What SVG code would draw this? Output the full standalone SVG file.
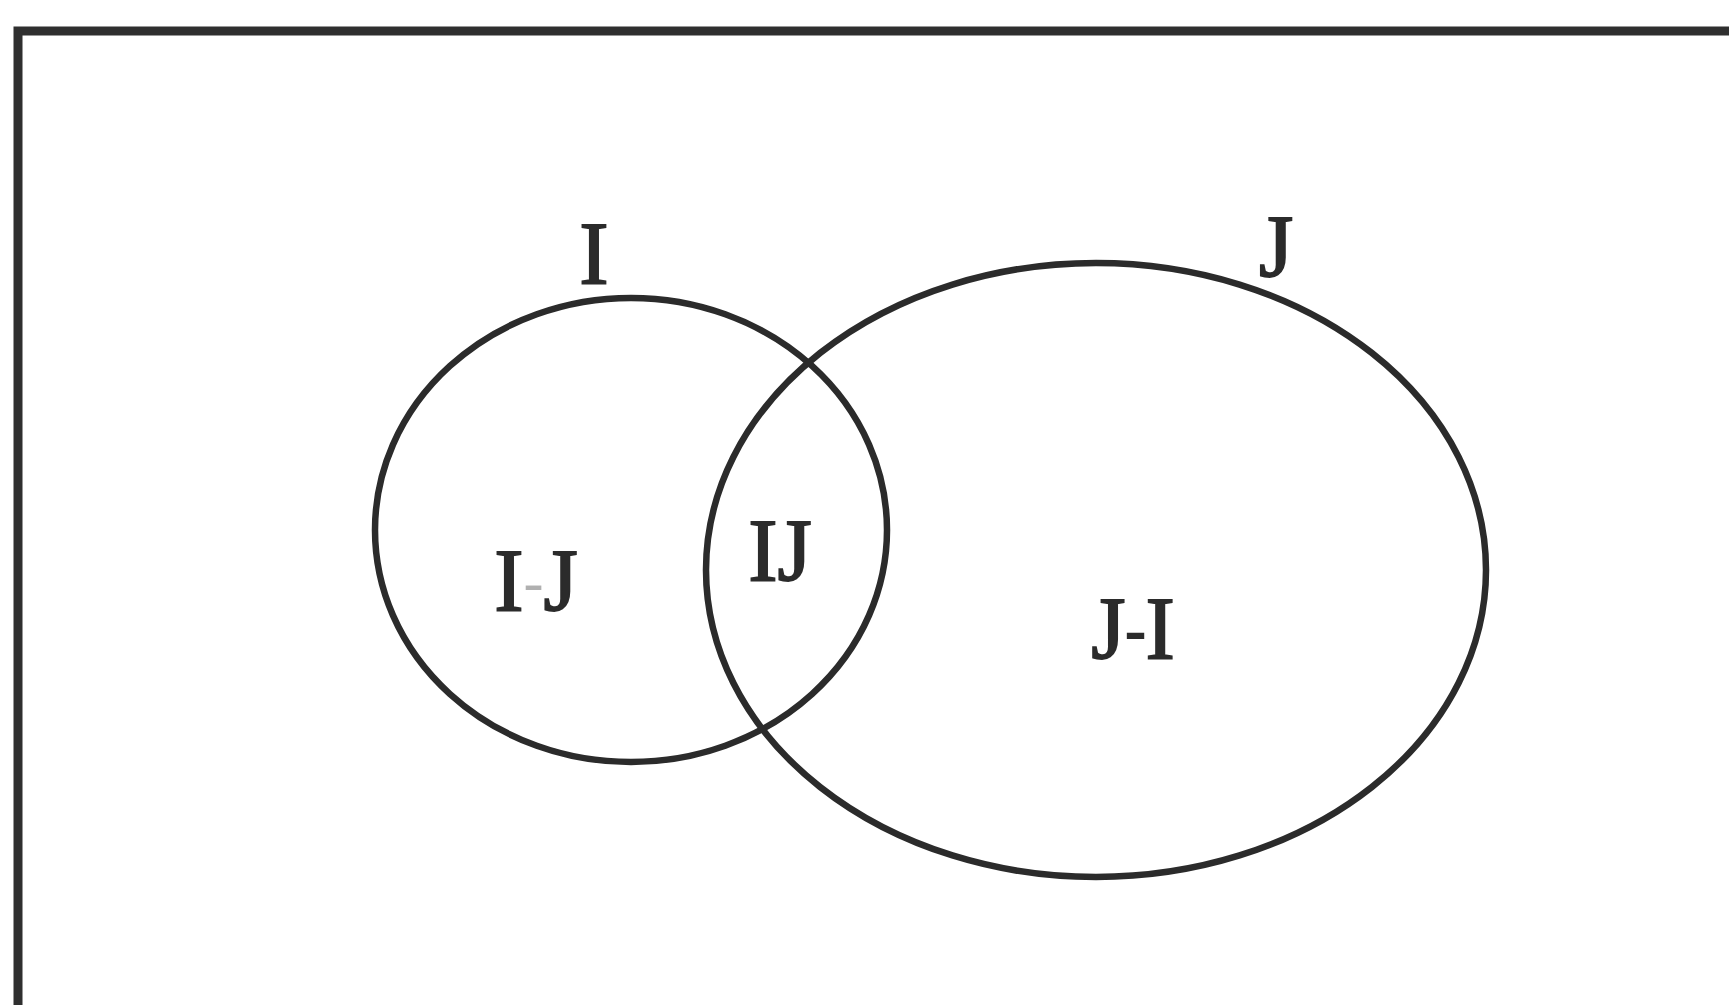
<svg xmlns="http://www.w3.org/2000/svg" width="1729" height="1005" viewBox="0 0 1729 1005">
<style>
.line{fill:none;stroke:#2b2b2b;stroke-width:6.5}
.frame{fill:none;stroke:#2f2f2f;stroke-width:9}
.lbl{font-family:"Liberation Serif","Times New Roman",serif;font-size:88px;fill:#2b2b2b;stroke:#2b2b2b;stroke-width:1.8;text-anchor:middle}
.dash{font-size:60px}
</style>
<rect width="1729" height="1005" fill="#ffffff"/>
<path class="frame" d="M18,1010 L18,31 L1735,31"/>
<g id="set-I">
<ellipse class="line" cx="631" cy="530" rx="256" ry="232"/>
<text class="lbl" x="594" y="283">I</text>
</g>
<g id="set-J">
<ellipse class="line" cx="1096" cy="570" rx="390" ry="307"/>
<text class="lbl" x="1276" y="276">J</text>
</g>
<g id="region-I-minus-J">
<text class="lbl" x="536" y="610">I<tspan class="dash" fill="#b0b0b0" stroke="none" dy="-8">-</tspan><tspan dy="8">J</tspan></text>
</g>
<g id="region-IJ">
<text class="lbl" x="780" y="580">IJ</text>
</g>
<g id="region-J-minus-I">
<text class="lbl" x="1133" y="658">J<tspan class="dash" dy="-8">-</tspan><tspan dy="8">I</tspan></text>
</g>
<g id="connectors"></g>
</svg>
